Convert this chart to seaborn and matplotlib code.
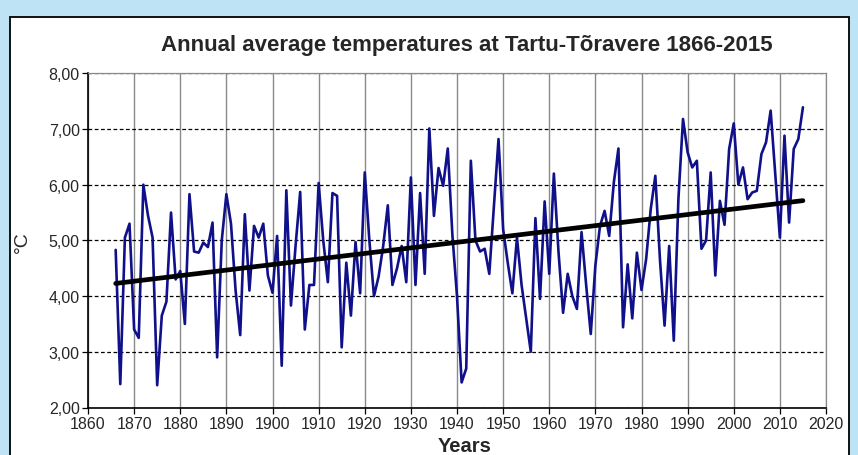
import matplotlib.pyplot as plt
import matplotlib.ticker as mticker
import numpy as np
import pandas as pd
import seaborn as sns
from matplotlib.patches import Rectangle

# Annual mean temperature (degC), one list per decade
t_1866 = [4.83, 2.42, 5.05, 5.30]
t_1870 = [3.40, 3.25, 6.00, 5.45, 5.05, 2.40, 3.65, 3.90, 5.50, 4.30]
t_1880 = [4.45, 3.50, 5.83, 4.80, 4.78, 4.96, 4.88, 5.32, 2.90, 5.00]
t_1890 = [5.83, 5.30, 4.10, 3.30, 5.47, 4.10, 5.26, 5.05, 5.30, 4.37]
t_1900 = [4.06, 5.08, 2.75, 5.90, 3.83, 4.90, 5.87, 3.40, 4.20, 4.20]
t_1910 = [6.03, 5.00, 4.25, 5.85, 5.80, 3.08, 4.60, 3.65, 4.97, 4.05]
t_1920 = [6.22, 5.00, 4.00, 4.35, 4.90, 5.63, 4.20, 4.50, 4.90, 4.25]
t_1930 = [6.13, 4.20, 5.85, 4.40, 7.01, 5.44, 6.30, 5.98, 6.65, 5.10]
t_1940 = [4.00, 2.45, 2.70, 6.43, 5.00, 4.80, 4.85, 4.40, 5.60, 6.82]
t_1950 = [5.20, 4.60, 4.05, 5.05, 4.20, 3.60, 3.00, 5.40, 3.95, 5.70]
t_1960 = [4.40, 6.20, 4.80, 3.70, 4.40, 4.00, 3.77, 5.15, 4.20, 3.32]
t_1970 = [4.55, 5.26, 5.53, 5.08, 6.04, 6.65, 3.44, 4.57, 3.60, 4.78]
t_1980 = [4.11, 4.66, 5.56, 6.16, 4.66, 3.47, 4.90, 3.20, 5.74, 7.18]
t_1990 = [6.58, 6.31, 6.43, 4.85, 5.00, 6.22, 4.37, 5.71, 5.28, 6.64]
t_2000 = [7.10, 6.00, 6.31, 5.74, 5.86, 5.89, 6.55, 6.76, 7.33, 6.20]
t_2010 = [5.05, 6.88, 5.32, 6.64, 6.82, 7.39]

temps = (t_1866 + t_1870 + t_1880 + t_1890 + t_1900 + t_1910 + t_1920 + t_1930
         + t_1940 + t_1950 + t_1960 + t_1970 + t_1980 + t_1990 + t_2000 + t_2010)
years = list(range(1866, 1866 + len(temps)))
df = pd.DataFrame({"year": years, "temp": temps})

x_ticks = list(range(1860, 2021, 10))
y_ticks = [2, 3, 4, 5, 6, 7, 8]

sns.set_theme(style="white")
plt.rcParams["font.family"] = ["Liberation Sans", "DejaVu Sans"]

fig = plt.figure(figsize=(8.58, 4.56), dpi=100)
fig.patch.set_facecolor("#bde3f4")
# white chart panel with black frame
fig.add_artist(Rectangle((10 / 858, -0.02), 839 / 858, 1 - 18 / 456 + 0.02,
                         transform=fig.transFigure, facecolor="white",
                         edgecolor="black", lw=1.3, zorder=0))

ax = fig.add_axes([88 / 858, 1 - 408.5 / 456, 738 / 858, 334.2 / 456])
ax.set_facecolor("white")

sns.lineplot(data=df, x="year", y="temp", color="#10108a", lw=1.9, ax=ax, zorder=3)
# linear trend over the whole record
sns.regplot(data=df, x="year", y="temp", scatter=False, ci=None, truncate=True,
            line_kws={"color": "black", "lw": 3.4, "solid_capstyle": "round", "zorder": 4},
            ax=ax)

ax.set_xlim(1860, 2020)
ax.set_ylim(2, 8)
ax.set_xticks(x_ticks)
ax.set_yticks(y_ticks)
ax.yaxis.set_major_formatter(mticker.FuncFormatter(lambda v, _: f"{v:.2f}".replace(".", ",")))

ax.xaxis.grid(True, color="#8a8a8a", lw=1.0)
ax.yaxis.grid(True, color="black", ls=(0, (3, 2)), lw=0.9)
ax.set_axisbelow(True)

for side in ["left", "bottom"]:
    ax.spines[side].set_color("black")
    ax.spines[side].set_linewidth(1.2)
for side in ["top", "right"]:
    ax.spines[side].set_color("#8a8a8a")
    ax.spines[side].set_linewidth(0.9)

ax.tick_params(bottom=True, left=True, direction="out", length=4, width=0.9,
               color="black", labelsize=11.5, pad=2)
ax.set_xlabel("")
ax.set_ylabel("")

fig.text(467 / 858, 1 - 46 / 456, "Annual average temperatures at Tartu-T\u00f5ravere 1866-2015",
         ha="center", va="center", fontsize=16, fontweight="bold")
fig.text(22 / 858, 1 - 242 / 456, "\u00b0C", rotation=90, ha="center", va="center", fontsize=14)
fig.text(465 / 858, 1 - 447 / 456, "Years", ha="center", va="center", fontsize=14.5,
         fontweight="bold")

fig.savefig("out.png", dpi=100, facecolor=fig.get_facecolor())
